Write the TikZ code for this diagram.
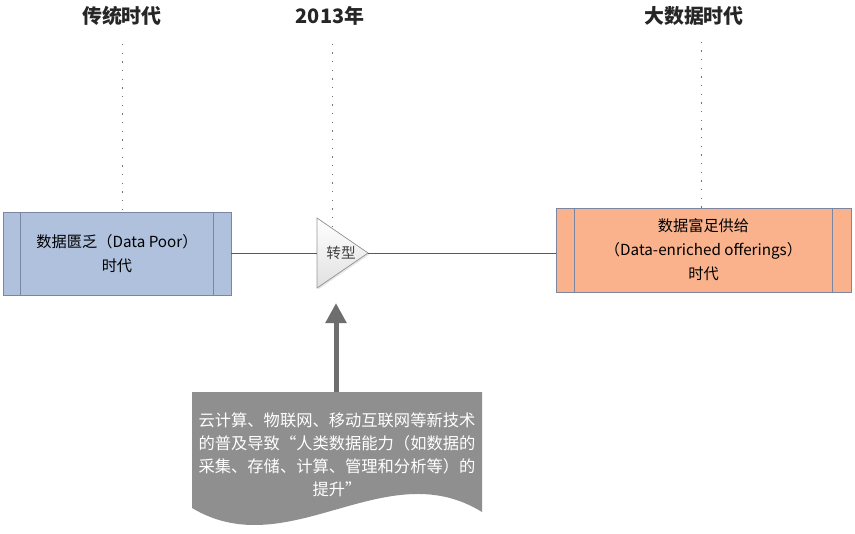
\documentclass[tikz,border=0pt]{standalone}
\usepackage{fontspec}
\setmainfont{Noto Sans CJK SC}
\usetikzlibrary{calc, arrows.meta, shadows}

\definecolor{poorfill}{RGB}{176,193,221}
\definecolor{richfill}{RGB}{249,178,140}
\definecolor{boxline}{RGB}{122,134,162}
\definecolor{notegray}{RGB}{143,143,143}
\definecolor{liftgray}{RGB}{110,110,110}

\begin{document}
\begin{tikzpicture}[x=0.03cm, y=-0.03cm,
    era/.style={font=\fontsize{17}{20}\selectfont\bfseries, text=black!85},
    guide/.style={draw=black!55, line width=0.7pt, dash pattern=on 1.2pt off 6.2pt},
    link/.style={draw=black!65, line width=0.6pt},
    period/.style={draw=boxline, line width=0.8pt, align=center, inner sep=0pt,
        font=\fontsize{13}{20.5}\selectfont, text=black,
        drop shadow={shadow xshift=1.2pt, shadow yshift=-1.2pt, fill=black!12, opacity=1}},
    bar/.style={draw=boxline, line width=0.8pt},
    lift/.style={draw=liftgray, line width=0.15cm, -{Triangle[width=0.6cm, length=0.6cm]}}]
    \useasboundingbox (0,0) rectangle (855,534);

    % Eras
    \node[era] (past) at (122,16) {传统时代};
    \node[era] (year) at (330,16) {2013年};
    \node[era] (bigdata) at (694,16) {大数据时代};

    % Periods
    \node[period, fill=poorfill, minimum width=6.84cm, minimum height=2.49cm] (poor) at (117,253.5)
        {数据匮乏（Data Poor）\\时代};
    \node[period, fill=richfill, minimum width=8.85cm, minimum height=2.52cm] (rich) at (703.5,250)
        {数据富足供给\\（Data-enriched offerings）\\时代};
    \draw[bar] ($(poor.north west)+(18,0)$) -- ($(poor.south west)+(18,0)$);
    \draw[bar] ($(poor.north east)+(-18,0)$) -- ($(poor.south east)+(-18,0)$);
    \draw[bar] ($(rich.north west)+(19,0)$) -- ($(rich.south west)+(19,0)$);
    \draw[bar] ($(rich.north east)+(-19,0)$) -- ($(rich.south east)+(-19,0)$);

    % Turn
    \coordinate (tri top) at (317,218);
    \coordinate (tri bottom) at (317,288);
    \coordinate (tri apex) at (368,253);
    \coordinate (tri west) at (317,253);
    \filldraw[draw=black!40, line width=0.6pt, top color=white, bottom color=black!12,
        drop shadow={shadow xshift=1.2pt, shadow yshift=-1.2pt, fill=black!10, opacity=1}]
        (tri top) -- (tri apex) -- (tri bottom) -- cycle;
    \node[font=\fontsize{12.5}{14}\selectfont, text=black!75] (turn) at (341,253) {转型};

    \draw[link] (poor.east |- tri west) -- (tri west);
    \draw[link] (tri apex) -- (tri apex -| rich.west);

    % Guides
    \draw[guide] ($(past.south)+(0,14)$) -- (past.south |- poor.north);
    \draw[guide] ($(year.south)+(2,14)$) -- (332,226);
    \draw[guide] ($(bigdata.south)+(7,12)$) -- ($(bigdata.south |- rich.north)+(7,0)$);

    % Note
    \fill[notegray] (192,392) -- (482,392) -- (482,512)
        .. controls (385,452) and (289,566) .. (192,508) -- cycle;
    \node[align=center, text=white, font=\fontsize{13.9}{19.6}\selectfont] (note) at (337,455)
        {云计算、物联网、移动互联网等新技术\\的普及导致“人类数据能力（如数据的\\采集、存储、计算、管理和分析等）的\\提升”};
    \coordinate (note top) at (336,392);
    \coordinate (lift end) at (336,303);
    \draw[lift] (note top) -- (lift end);
\end{tikzpicture}
\end{document}
